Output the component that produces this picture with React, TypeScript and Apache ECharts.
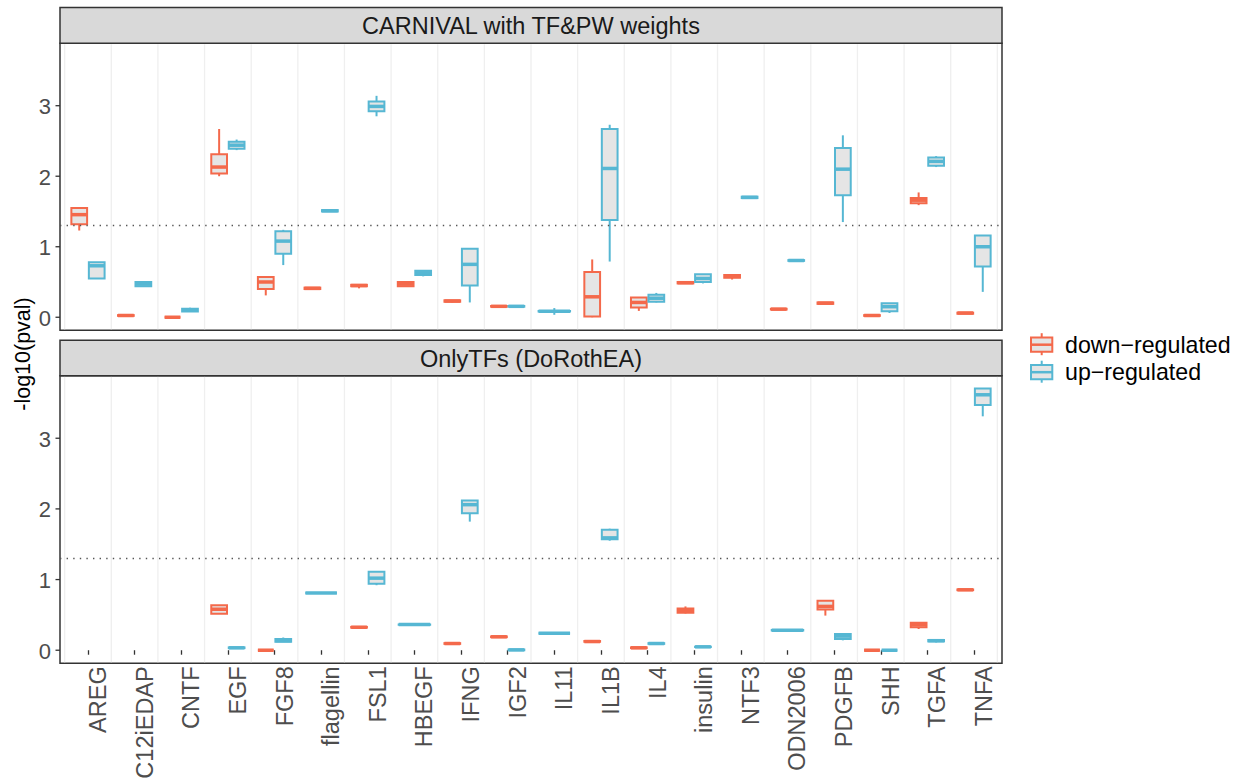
import React, { useEffect, useRef } from "react";
import * as echarts from "echarts";

// Ligands on the shared x axis
const categories = [
  "AREG", "C12iEDAP", "CNTF", "EGF", "FGF8", "flagellin", "FSL1", "HBEGF", "IFNG", "IGF2",
  "IL11", "IL1B", "IL4", "insulin", "NTF3", "ODN2006", "PDGFB", "SHH", "TGFA", "TNFA",
];

const groupNames = ["down\u2212regulated", "up\u2212regulated"];
const groupColors = ["#F4694B", "#56B7D3"];

const facetTitles = ["CARNIVAL with TF&PW weights", "OnlyTFs (DoRothEA)"];

// Box statistics per ligand: [lower whisker, Q1, median, Q3, upper whisker]; null = no box
const carnivalDown: (number[] | null)[] = [
  [1.23, 1.32, 1.455, 1.55, 1.55],
  [0.02, 0.02, 0.025, 0.03, 0.03],
  [0, 0, 0, 0, 0],
  [2.0, 2.04, 2.13, 2.31, 2.67],
  [0.31, 0.4, 0.5, 0.57, 0.57],
  [0.4, 0.4, 0.41, 0.42, 0.42],
  [0.41, 0.44, 0.45, 0.46, 0.46],
  [0.43, 0.44, 0.47, 0.5, 0.5],
  [0.21, 0.22, 0.23, 0.24, 0.24],
  [0.15, 0.15, 0.155, 0.16, 0.16],
  null,
  [0.0, 0.01, 0.29, 0.64, 0.82],
  [0.09, 0.14, 0.21, 0.28, 0.28],
  [0.48, 0.48, 0.49, 0.5, 0.5],
  [0.535, 0.56, 0.58, 0.6, 0.6],
  [0.11, 0.11, 0.115, 0.12, 0.12],
  [0.19, 0.19, 0.2, 0.21, 0.21],
  [0.02, 0.02, 0.025, 0.03, 0.03],
  [1.59, 1.615, 1.66, 1.69, 1.77],
  [0.05, 0.05, 0.06, 0.065, 0.065],
];

const carnivalUp: (number[] | null)[] = [
  [0.55, 0.55, 0.73, 0.78, 0.78],
  [0.44, 0.44, 0.47, 0.5, 0.5],
  [0.08, 0.08, 0.1, 0.12, 0.135],
  [2.37, 2.39, 2.44, 2.49, 2.52],
  [0.74, 0.9, 1.08, 1.22, 1.24],
  [1.5, 1.5, 1.51, 1.52, 1.52],
  [2.85, 2.92, 2.99, 3.06, 3.14],
  [0.58, 0.6, 0.63, 0.66, 0.66],
  [0.21, 0.45, 0.75, 0.97, 0.97],
  [0.15, 0.15, 0.155, 0.16, 0.16],
  [0.035, 0.08, 0.085, 0.09, 0.13],
  [0.79, 1.38, 2.11, 2.67, 2.73],
  [0.21, 0.22, 0.27, 0.32, 0.345],
  [0.48, 0.5, 0.55, 0.61, 0.61],
  [1.69, 1.69, 1.7, 1.71, 1.71],
  [0.8, 0.8, 0.805, 0.81, 0.81],
  [1.35, 1.73, 2.1, 2.4, 2.58],
  [0.06, 0.085, 0.15, 0.2, 0.2],
  [2.13, 2.15, 2.21, 2.265, 2.285],
  [0.36, 0.72, 1.0, 1.16, 1.16],
];

const onlyTFsDown: (number[] | null)[] = [
  null,
  null,
  null,
  [0.515, 0.515, 0.58, 0.635, 0.635],
  [0, 0, 0, 0, 0],
  null,
  [0.32, 0.32, 0.325, 0.33, 0.33],
  null,
  [0.09, 0.09, 0.095, 0.1, 0.1],
  [0.185, 0.185, 0.19, 0.195, 0.195],
  null,
  [0.12, 0.12, 0.123, 0.13, 0.13],
  [0.03, 0.03, 0.034, 0.04, 0.04],
  [0.52, 0.53, 0.56, 0.59, 0.62],
  null,
  null,
  [0.49, 0.575, 0.62, 0.7, 0.7],
  [0, 0, 0, 0, 0],
  [0.3, 0.325, 0.36, 0.39, 0.39],
  [0.85, 0.85, 0.855, 0.86, 0.86],
];

const onlyTFsUp: (number[] | null)[] = [
  null,
  null,
  null,
  [0.03, 0.03, 0.034, 0.04, 0.04],
  [0.12, 0.12, 0.135, 0.16, 0.18],
  [0.81, 0.81, 0.81, 0.81, 0.81],
  [0.92, 0.94, 1.02, 1.11, 1.11],
  [0.36, 0.36, 0.363, 0.365, 0.365],
  [1.82, 1.94, 2.06, 2.12, 2.12],
  [0, 0, 0.005, 0.01, 0.01],
  [0.24, 0.24, 0.24, 0.24, 0.24],
  [1.55, 1.57, 1.59, 1.705, 1.72],
  [0.09, 0.09, 0.095, 0.1, 0.1],
  [0.045, 0.045, 0.048, 0.05, 0.05],
  null,
  [0.28, 0.28, 0.283, 0.285, 0.285],
  [0.14, 0.16, 0.2, 0.23, 0.23],
  [0, 0, 0, 0, 0],
  [0.11, 0.125, 0.135, 0.145, 0.145],
  [3.31, 3.47, 3.615, 3.705, 3.705],
];

const yTicks = [0, 1, 2, 3];
const pvalThreshold = -Math.log10(0.05);

const FONT = "'Liberation Sans', Arial, Helvetica, sans-serif";
const BOX_FILL = "#E5E5E5";
const DARK = "#333333";
const AXIS_TEXT = "#4D4D4D";

// ggplot-like dodge: 0.75 wide slot, split in two when both groups exist, 10% padding
function boxItems(stats: (number[] | null)[], other: (number[] | null)[], side: number) {
  const out: number[][] = [];
  stats.forEach((s, i) => {
    if (!s) return;
    const paired = other[i] != null;
    const slot = paired ? 0.75 / 2 : 0.75;
    const offset = paired ? (side * 0.75) / 4 : 0;
    out.push([i, offset, slot * 0.9, ...s]);
  });
  return out;
}

function makeBoxRender(color: string) {
  return (params: any, api: any) => {
    const x = api.value(0) + api.value(1);
    const hw = api.value(2) / 2;
    const lo = api.value(3), q1 = api.value(4), med = api.value(5), q3 = api.value(6), hi = api.value(7);
    const [cx, yLo] = api.coord([x, lo]);
    const yQ1 = api.coord([x, q1])[1];
    const yMed = api.coord([x, med])[1];
    const yQ3 = api.coord([x, q3])[1];
    const yHi = api.coord([x, hi])[1];
    const xl = api.coord([x - hw, med])[0];
    const xr = api.coord([x + hw, med])[0];
    return {
      type: "group",
      children: [
        { type: "line", shape: { x1: cx, y1: yQ3, x2: cx, y2: yHi }, style: { stroke: color, lineWidth: 2 } },
        { type: "line", shape: { x1: cx, y1: yQ1, x2: cx, y2: yLo }, style: { stroke: color, lineWidth: 2 } },
        {
          type: "rect",
          shape: { x: xl, y: yQ3, width: xr - xl, height: yQ1 - yQ3 },
          style: { fill: BOX_FILL, stroke: color, lineWidth: 2 },
        },
        { type: "line", shape: { x1: xl, y1: yMed, x2: xr, y2: yMed }, style: { stroke: color, lineWidth: 3.5 } },
      ],
    };
  };
}

// y ticks and their labels, placed through the y scale just outside the panel
function renderYTick(params: any, api: any) {
  const v = api.value(1);
  const y = api.coord([0, v])[1];
  const x0 = params.coordSys.x;
  return {
    type: "group",
    children: [
      { type: "line", shape: { x1: x0 - 4.5, y1: y, x2: x0, y2: y }, style: { stroke: DARK, lineWidth: 1.3 } },
      {
        type: "text",
        x: x0 - 9,
        y: y + 1,
        style: {
          text: String(v),
          fontSize: 22,
          fontFamily: FONT,
          fill: AXIS_TEXT,
          align: "right",
          verticalAlign: "middle",
        },
      },
    ],
  };
}

function buildOption() {
  const panels = [
    { title: facetTitles[0], down: carnivalDown, up: carnivalUp, top: 43.3, height: 287, stripTop: 7.5 },
    { title: facetTitles[1], down: onlyTFsDown, up: onlyTFsUp, top: 375.7, height: 287.6, stripTop: 340.3 },
  ];
  const left = 60;
  const width = 942;
  const yMin = -0.185;
  const yMax = 3.885;

  const separators = categories.map((_, i) => [i - 0.5, 0]).concat([[categories.length - 0.5, 0]]);

  const grid: any[] = [];
  const xAxis: any[] = [];
  const yAxis: any[] = [];
  const series: any[] = [];
  const graphic: any[] = [];

  panels.forEach((p, k) => {
    const isBottom = k === panels.length - 1;
    grid.push({
      left,
      top: p.top,
      width,
      height: p.height,
      show: true,
      backgroundColor: "#FFFFFF",
      borderColor: DARK,
      borderWidth: 1.5,
    });
    xAxis.push({
      type: "value",
      gridIndex: k,
      min: -0.6,
      max: categories.length - 0.4,
      axisLine: { show: false },
      splitLine: { show: false },
      axisTick: {
        show: isBottom,
        customValues: categories.map((_, i) => i),
        length: 4.5,
        lineStyle: { color: DARK, width: 1.3 },
      },
      axisLabel: {
        show: isBottom,
        customValues: categories.map((_, i) => i),
        formatter: (v: number) => categories[Math.round(v)] ?? "",
        rotate: 90,
        align: "right",
        verticalAlign: "top",
        lineHeight: 20,
        margin: 3,
        fontSize: 23.5,
        color: AXIS_TEXT,
        fontFamily: FONT,
      },
    });
    yAxis.push({
      type: "value",
      gridIndex: k,
      min: yMin,
      max: yMax,
      axisLine: { show: false },
      splitLine: { show: false },
      axisTick: { show: false },
      axisLabel: { show: false },
    });

    // light separators between ligands, plus the p = 0.05 reference line
    series.push({
      type: "custom",
      xAxisIndex: k,
      yAxisIndex: k,
      z: 1,
      silent: true,
      encode: { x: 0, y: 1 },
      data: separators,
      renderItem: (params: any, api: any) => {
        const x = api.coord([api.value(0), 0])[0];
        const cs = params.coordSys;
        return {
          type: "line",
          shape: { x1: x, y1: cs.y + 1, x2: x, y2: cs.y + cs.height - 1 },
          style: { stroke: "#EFEFEF", lineWidth: 1.3 },
        };
      },
      markLine: {
        silent: true,
        symbol: ["none", "none"],
        label: { show: false },
        lineStyle: { color: "#555555", width: 1.4, type: [1.4, 5.2] },
        data: [{ yAxis: pvalThreshold }],
        z: 5,
      },
    });

    series.push({
      type: "custom",
      xAxisIndex: k,
      yAxisIndex: k,
      z: 4,
      silent: true,
      clip: false,
      encode: { x: 0, y: 1 },
      data: yTicks.map((v) => [0, v]),
      renderItem: renderYTick,
    });

    const groups = [p.down, p.up];
    groups.forEach((g, gi) => {
      series.push({
        type: "custom",
        name: groupNames[gi],
        xAxisIndex: k,
        yAxisIndex: k,
        z: 3,
        silent: true,
        encode: { x: 0, y: [3, 4, 5, 6, 7] },
        data: boxItems(g, groups[1 - gi], gi === 0 ? -1 : 1),
        renderItem: makeBoxRender(groupColors[gi]),
      });
    });

    // facet strip
    graphic.push({
      type: "rect",
      shape: { x: left, y: p.stripTop, width, height: p.top - p.stripTop },
      style: { fill: "#D9D9D9", stroke: DARK, lineWidth: 1.5 },
      z: 10,
    });
    graphic.push({
      type: "text",
      x: left + width / 2,
      y: (p.stripTop + p.top) / 2 + 1,
      style: {
        text: p.title,
        fontSize: 23.5,
        fontFamily: FONT,
        fill: "#1A1A1A",
        align: "center",
        verticalAlign: "middle",
      },
      z: 11,
    });
  });

  // shared y-axis title
  graphic.push({
    type: "text",
    x: 23,
    y: 354,
    rotation: Math.PI / 2,
    style: {
      text: "-log10(pval)",
      fontSize: 21.5,
      fontFamily: FONT,
      fill: "#000000",
      align: "center",
      verticalAlign: "middle",
    },
    z: 11,
  });

  // legend keys
  groupNames.forEach((name, gi) => {
    const cy = 344.7 + gi * 27.5;
    const color = groupColors[gi];
    graphic.push({
      type: "group",
      z: 11,
      children: [
        { type: "line", shape: { x1: 1041.7, y1: cy - 11.5, x2: 1041.7, y2: cy + 10.5 }, style: { stroke: color, lineWidth: 2 } },
        {
          type: "rect",
          shape: { x: 1031, y: cy - 7.3, width: 21.3, height: 14.4 },
          style: { fill: BOX_FILL, stroke: color, lineWidth: 2 },
        },
        { type: "line", shape: { x1: 1031, y1: cy, x2: 1052.3, y2: cy }, style: { stroke: color, lineWidth: 2.5 } },
        {
          type: "text",
          x: 1065,
          y: cy,
          style: {
            text: name,
            fontSize: 23.2,
            fontFamily: FONT,
            fill: "#000000",
            align: "left",
            verticalAlign: "middle",
          },
        },
      ],
    });
  });

  return {
    animation: false,
    backgroundColor: "#FFFFFF",
    textStyle: { fontFamily: FONT },
    grid,
    xAxis,
    yAxis,
    series,
    graphic,
  };
}

export default function App() {
  const ref = useRef<HTMLDivElement>(null);
  useEffect(() => {
    if (!ref.current) return;
    const chart = echarts.init(ref.current, null, { renderer: "svg" });
    chart.setOption(buildOption() as any);
    return () => chart.dispose();
  }, []);
  return (
    <div
      ref={ref}
      style={{ position: "fixed", left: 0, top: 0, width: 1241, height: 783, background: "#FFFFFF" }}
    />
  );
}
